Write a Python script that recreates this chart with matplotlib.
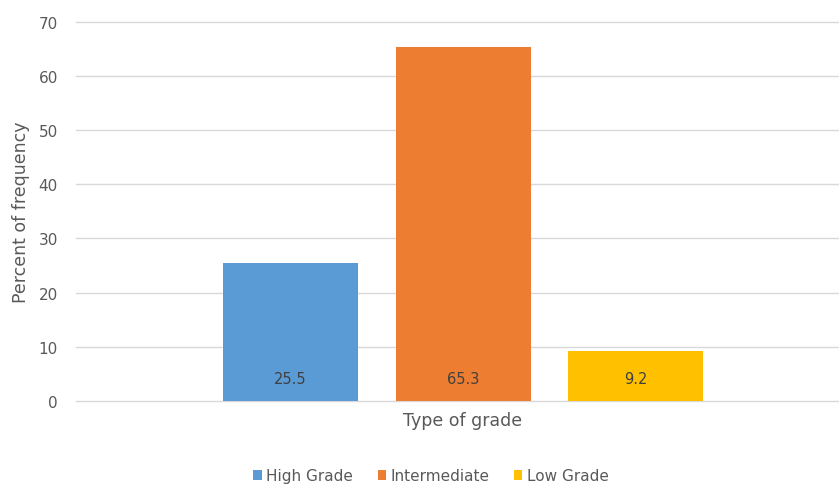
import matplotlib
matplotlib.use("Agg")
import matplotlib.pyplot as plt
from matplotlib.patches import Patch

series = ["High Grade", "Intermediate", "Low Grade"]
values = [25.5, 65.3, 9.2]
colors = ["#5B9BD5", "#ED7D31", "#FFC000"]
yticks = [0, 10, 20, 30, 40, 50, 60, 70]

W, H = 839, 489
fig = plt.figure(figsize=(W / 100, H / 100), dpi=100)
plt.rcParams["font.family"] = ["DejaVu Sans"]

left, right, top, bottom = 76, 839, 22.5, 402
ax = fig.add_axes([left / W, 1 - bottom / H, (right - left) / W, (bottom - top) / H])

pitch = 172.5
xs = [-1, 0, 1]
bw = 135 / pitch
bars = ax.bar(xs, values, width=bw, color=colors, zorder=3)

for b, v in zip(bars, values):
    ax.annotate(f"{v}", (b.get_x() + b.get_width() / 2, 0), xytext=(0, 23),
                textcoords="offset pixels", ha="center", va="center",
                fontsize=10.5, color="#404040", zorder=4)

ax.set_xlim((left - 463) / pitch, (right - 463) / pitch)
ax.set_ylim(0, 70)
ax.set_yticks(yticks)
ax.set_xticks([])
ax.grid(axis="y", color="#D9D9D9", linewidth=1.0, zorder=0)
for gl in ax.get_ygridlines():
    gl.set_clip_on(False)
for s in ax.spines.values():
    s.set_visible(False)
ax.tick_params(axis="y", length=0, pad=13, labelsize=11, labelcolor="#595959")

fig.text(21 / W, 1 - 212 / H, "Percent of frequency", rotation=90,
         ha="center", va="center", fontsize=12.5, color="#595959")
fig.text(463 / W, 1 - 421 / H, "Type of grade", ha="center", va="center",
         fontsize=12.5, color="#595959")

handles = [Patch(facecolor=c, edgecolor="none") for c in colors]
fig.legend(handles, series, loc="center", bbox_to_anchor=(431 / W, 1 - 477 / H),
           ncol=3, frameon=False, fontsize=11, labelcolor="#595959",
           handlelength=0.55, handleheight=0.55, handletextpad=0.3, columnspacing=1.6)

fig.savefig("out.png", dpi=100)
